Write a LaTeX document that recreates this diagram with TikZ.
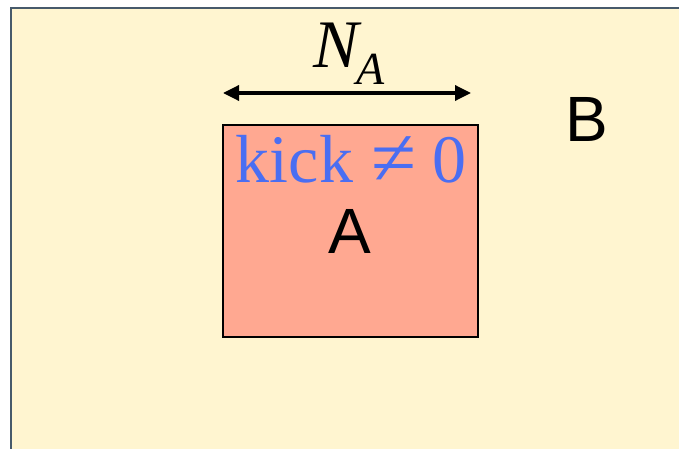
\documentclass[tikz,border=0pt]{standalone}
\usepackage{fontspec}
\setmainfont{Liberation Serif}
\newfontfamily\labelsans{Liberation Sans}
\usepackage{xcolor}
\usetikzlibrary{positioning, arrows.meta}

\definecolor{sandfill}{HTML}{FFF5D0}
\definecolor{sandedge}{HTML}{475A6B}
\definecolor{boxfill}{HTML}{FFA891}
\definecolor{kickblue}{HTML}{4A6EF2}

\begin{document}
\begin{tikzpicture}[
  x=0.5pt, y=-0.5pt,
  regA/.style={draw=black, fill=boxfill, line width=1pt,
               minimum width=127.5pt, minimum height=106pt, inner sep=0pt},
  sanslbl/.style={font=\labelsans\fontsize{32}{36}\selectfont, text=black,
                  inner sep=0pt, anchor=base},
  kicklbl/.style={font=\fontsize{34}{38}\selectfont, text=kickblue,
                  inner sep=0pt, anchor=base},
  widthlbl/.style={font=\itshape\fontsize{34}{38}\selectfont, inner sep=0pt,
                   anchor=base},
  arr/.style={{Triangle[length=8pt, width=7.5pt]}-{Triangle[length=8pt, width=7.5pt]},
              line width=1.7pt, draw=black},
]
\useasboundingbox (0,0) rectangle (679,449);

%% ---- region B: the surrounding sheet, cut by the right and bottom edges ----
\fill[sandfill] (11,8) rectangle (679,449);
\draw[sandedge, line width=1.1pt] (11,449) -- (11,8) -- (679,8);

%% ---- region A ----
\node[regA] (boxA) at (350.5,231) {};
\node[kicklbl] (kick) at (351,182)
  {kick\hspace{9pt}\raisebox{-1.5pt}{\fontsize{41}{44}\selectfont ≠}\hspace{8pt}0};
\node[sanslbl] (labA) at (350,253) {A};
\node[sanslbl] (labB) at (587,141) {B};

%% ---- its width ----
\coordinate (wL) at (223,93);
\coordinate (wR) at (471,93);
\draw[arr] (wL) -- (wR);
\node[widthlbl] (NA) at (349,68)
  {N\kern-1pt\raisebox{-8.5pt}{\fontsize{23}{26}\selectfont A}};
\end{tikzpicture}
\end{document}
